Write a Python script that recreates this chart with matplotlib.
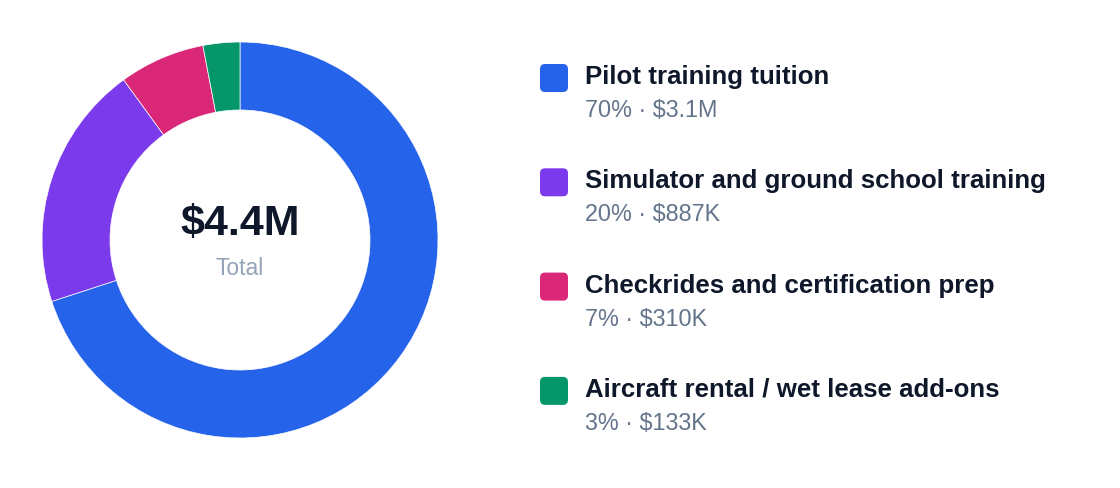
import matplotlib.pyplot as plt
from matplotlib.patches import FancyBboxPatch

plt.rcParams['font.family'] = ['Liberation Sans', 'DejaVu Sans']

labels = ["Pilot training tuition", "Simulator and ground school training",
          "Checkrides and certification prep", "Aircraft rental / wet lease add-ons"]
values = [3.1, 0.887, 0.310, 0.133]  # $M
pcts = [70, 20, 7, 3]
amounts = ["$3.1M", "$887K", "$310K", "$133K"]
colors = ["#2563eb", "#7c3aed", "#db2777", "#059669"]
total_label = "$4.4M"

W, H = 1120, 488
fig = plt.figure(figsize=(W / 100, H / 100), dpi=100)
ax = fig.add_axes([0, 0, 1, 1])

# donut (pixel coords, y flipped)
cx, cy, R = 240, H - 240, 198
ax.pie(values, colors=colors, radius=R, center=(cx, cy), startangle=90,
       counterclock=False, frame=True,
       wedgeprops=dict(width=68, edgecolor="white", linewidth=0.5))
ax.set_xlim(0, W)
ax.set_ylim(0, H)
ax.axis("off")

ax.text(cx, H - 235, total_label, ha="center", va="baseline", fontsize=31,
        fontweight="bold", color="#0f172a")
ax.text(cx, H - 275, "Total", ha="center", va="baseline", fontsize=16.5,
        color="#94a3b8")

# legend
step = 104.3
for i, (lab, p, amt, c) in enumerate(zip(labels, pcts, amounts, colors)):
    y0 = 78 + i * step
    box = FancyBboxPatch((541, H - y0 - 13), 26, 26,
                         boxstyle="round,pad=1,rounding_size=5",
                         facecolor=c, edgecolor="none")
    ax.add_patch(box)
    ax.text(585, H - (84 + i * step), lab, ha="left", va="baseline",
            fontsize=18.6, fontweight="bold", color="#0f172a")
    ax.text(585, H - (117 + i * step), f"{p}% \u00b7 {amt}", ha="left",
            va="baseline", fontsize=16.8, color="#64748b")

fig.savefig("out.png", dpi=100)
